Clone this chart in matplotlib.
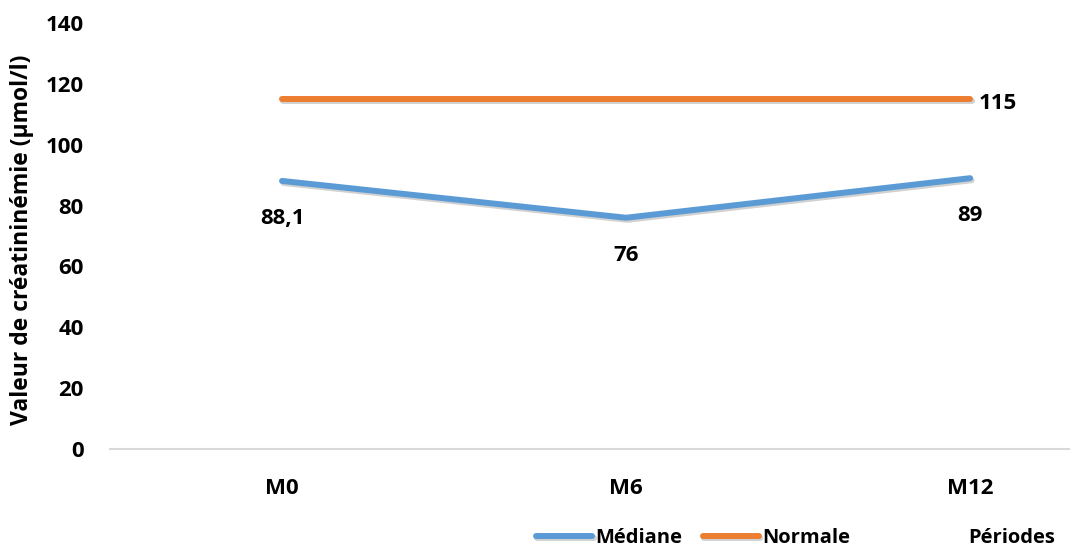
import matplotlib.pyplot as plt
import matplotlib.patheffects as pe

periods = ["M0", "M6", "M12"]
mediane = [88.1, 76, 89]
normale = [115, 115, 115]
mediane_labels = ["88,1", "76", "89"]
normale_label = "115"

BLUE = "#5B9BD5"
ORANGE = "#ED7D31"

plt.rcParams["font.family"] = ["Open Sans", "DejaVu Sans"]
plt.rcParams["font.weight"] = "bold"

fig = plt.figure(figsize=(10.7, 5.5), dpi=100)
# plot area: x 110..1070 px, y 23..449 px
ax = fig.add_axes([110 / 1070, 1 - 449 / 550, 960 / 1070, 426 / 550])

shadow = [pe.SimpleLineShadow(offset=(1, -1.5), alpha=0.18, shadow_color="black"), pe.Normal()]
x = list(range(len(periods)))
ax.plot(x, mediane, color=BLUE, lw=4.3, solid_capstyle="round", path_effects=shadow, label="Médiane")
ax.plot(x, normale, color=ORANGE, lw=4.3, solid_capstyle="round", path_effects=shadow, label="Normale")

for xi, v, lab in zip(x, mediane, mediane_labels):
    ax.annotate(lab, (xi, v), xytext=(0, -27), textcoords="offset points",
                ha="center", va="center", fontsize=16, fontweight="bold")
ax.annotate(normale_label, (x[-1], normale[-1]), xytext=(6, -3), textcoords="offset points",
            ha="left", va="center", fontsize=16, fontweight="bold")

ax.set_ylim(0, 140)
ax.set_yticks(range(0, 141, 20))
ax.set_xlim(-0.5, (1070 - 281) / 344.5)
ax.set_xticks(x)
ax.set_xticklabels(periods)
ax.tick_params(axis="both", length=0, labelsize=16)
ax.tick_params(axis="x", pad=21)
ax.tick_params(axis="y", pad=19)
for s in ["top", "right", "left"]:
    ax.spines[s].set_visible(False)
ax.spines["bottom"].set_color("#D9D9D9")
ax.spines["bottom"].set_linewidth(1.5)

ax.set_ylabel("Valeur de créatininémie (µmol/l)", fontsize=16.5, fontweight="bold")
ax.yaxis.set_label_coords(-0.079, 0.49)
fig.text(1012 / 1070, 1 - 538 / 550, "Périodes", ha="center", va="center", fontsize=14.5, fontweight="bold")

fig.legend(loc="center", bbox_to_anchor=(693 / 1070, 1 - 538 / 550), ncol=2, frameon=False,
           fontsize=14.5, handlelength=2.8, columnspacing=1.0, handletextpad=0.15)

fig.savefig("out.png", dpi=100)
